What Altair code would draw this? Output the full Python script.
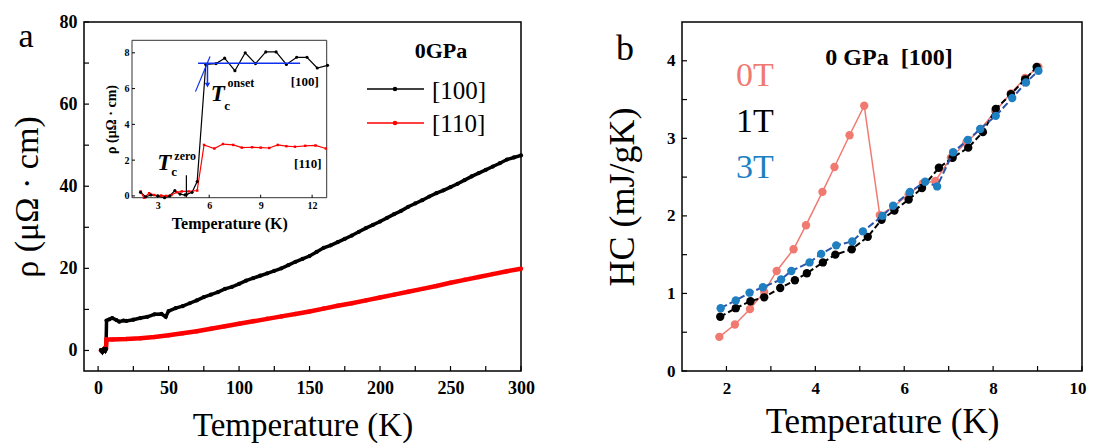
import altair as alt
import pandas as pd

FONT = "Liberation Serif"

# ---------------- panel a : main curves ----------------
t100 = [2, 3, 4, 5, 5.6, 6, 8, 10, 13, 15, 18, 20, 25, 30, 35, 40, 45, 48, 50,
        55, 60, 65, 70, 75, 80, 85, 90, 95, 100, 105, 110, 115, 120, 125, 130,
        135, 140, 145, 150, 155, 160, 165, 170, 175, 180, 185, 190, 195, 200,
        205, 210, 215, 220, 225, 230, 235, 240, 245, 250, 255, 260, 265, 270,
        275, 280, 285, 290, 295, 300]
r100 = [0.1, -0.4, 0.3, -0.1, 0.4, 7.3, 7.6, 7.9, 7.4, 7.0, 7.3, 7.2, 7.5, 7.9, 8.2, 8.8, 8.9, 8.2, 9.6,
        10.3, 10.8, 11.5, 12.2, 13.0, 13.6, 14.2, 15.0, 15.5, 16.2, 17.0, 17.6, 18.2, 18.8, 19.4, 20.0,
        20.8, 21.6, 22.3, 23.0, 24.0, 25.0, 25.6, 26.4, 27.2, 28.0, 28.9, 29.8, 30.6, 31.4,
        32.3, 33.2, 34.0, 35.0, 35.8, 36.6, 37.5, 38.3, 39.0, 39.8, 40.6, 41.5, 42.4, 43.2,
        44.0, 44.8, 45.6, 46.5, 47.0, 47.5]

t110 = [2, 3, 4, 5, 5.6, 6, 10, 20, 30, 40, 50, 60, 70, 80, 90, 100, 110, 120, 130,
        140, 150, 160, 170, 180, 190, 200, 210, 220, 230, 240, 250, 260, 270, 280, 290, 300]
r110 = [0.0, 0.1, 0.2, 0.2, 0.4, 2.7, 2.7, 2.8, 3.0, 3.3, 3.7, 4.2, 4.7, 5.3, 5.9, 6.5, 7.1, 7.7, 8.3,
        8.9, 9.5, 10.2, 10.9, 11.5, 12.2, 12.9, 13.6, 14.3, 15.0, 15.7, 16.5, 17.2, 17.9, 18.6, 19.3, 19.9]

# ---------------- panel a : inset ----------------
it100 = [2.0, 2.3, 2.6, 3.0, 3.4, 3.7, 4.0, 4.3, 4.6, 5.0, 5.3, 5.8, 6.4, 6.9, 7.5, 8.1,
         8.7, 9.3, 9.9, 10.5, 11.1, 11.7, 12.3, 12.9]
ir100 = [0.2, -0.05, 0.05, 0.0, -0.1, 0.0, 0.3, 0.1, 0.05, 0.2, 0.8, 7.35, 7.4, 7.7, 7.0, 8.0,
         7.4, 8.05, 8.05, 7.35, 7.75, 7.75, 7.15, 7.3]
it110 = [2.0, 2.2, 2.5, 2.8, 3.2, 3.5, 3.8, 4.1, 4.4, 4.8, 5.3, 5.7, 6.3, 6.8, 7.4, 7.9,
         8.5, 9.0, 9.5, 10.0, 10.5, 11.0, 11.6, 12.2, 12.8]
ir110 = [0.25, -0.1, 0.15, 0.05, 0.02, 0.0, 0.05, 0.2, 0.25, 0.25, 0.3, 2.85, 2.65, 2.9, 2.85, 2.7,
         2.72, 2.7, 2.68, 2.85, 2.78, 2.75, 2.8, 2.82, 2.65]

# ---------------- panel b : heat capacity ----------------
t0 = [1.84, 2.19, 2.53, 2.85, 3.13, 3.51, 3.79, 4.16, 4.43, 4.77, 5.10, 5.45, 5.76, 6.10,
      6.42, 6.70, 7.05, 7.40, 7.72, 8.05, 8.40, 8.72, 9.02]
hc0 = [0.44, 0.60, 0.80, 1.02, 1.29, 1.57, 1.88, 2.31, 2.63, 3.04, 3.42, 2.01, 2.12, 2.28,
       2.42, 2.45, 2.75, 2.95, 3.12, 3.35, 3.58, 3.78, 3.92]
t1 = [1.86, 2.21, 2.54, 2.85, 3.21, 3.54, 3.81, 4.17, 4.45, 4.82, 5.18, 5.49, 5.78, 6.10,
      6.40, 6.78, 7.09, 7.44, 7.77, 8.06, 8.40, 8.72, 8.98]
hc1 = [0.70, 0.81, 0.90, 0.95, 1.07, 1.17, 1.26, 1.40, 1.50, 1.57, 1.73, 1.95, 2.07, 2.21,
       2.36, 2.62, 2.75, 2.88, 3.08, 3.38, 3.57, 3.76, 3.92]
t3 = [1.87, 2.21, 2.52, 2.82, 3.23, 3.46, 3.87, 4.13, 4.47, 4.83, 5.07, 5.51, 5.75, 6.13,
      6.47, 6.74, 7.10, 7.43, 7.71, 8.06, 8.43, 8.74, 9.02]
hc3 = [0.81, 0.91, 1.01, 1.08, 1.18, 1.29, 1.40, 1.51, 1.62, 1.67, 1.80, 2.00, 2.13, 2.31,
       2.44, 2.38, 2.82, 2.98, 3.12, 3.29, 3.52, 3.72, 3.87]

# tick positions
a_xticks = [0, 25, 50, 75, 100, 125, 150, 175, 200, 225, 250, 275, 300]
a_yticks = [0, 10, 20, 30, 40, 50, 60, 70, 80]
i_xticks = [3, 6, 9, 12]
i_yticks = [0, 2, 4, 6, 8]
b_xticks = [2, 3, 4, 5, 6, 7, 8, 9, 10]
b_yticks = [0, 0.5, 1, 1.5, 2, 2.5, 3, 3.5, 4]

C0, C1, C3, C3L = "#F07A70", "#000000", "#1E7FC1", "#2A55AA"


def label_axis(title, values, orient, lexpr, lsize, tsize, lpad, tpad, tweight="normal",
               offset=0, flush=False, flush_off=0):
    kw = dict(title=title, values=values, orient=orient, ticks=False, domain=False, grid=False,
              labelFontSize=lsize, labelFontWeight="bold", titleFontSize=tsize,
              titleFontWeight=tweight, labelPadding=lpad, titlePadding=tpad, labelFlush=flush,
              offset=offset)
    if flush:
        kw["labelFlushOffset"] = flush_off
    if lexpr:
        kw["labelExpr"] = lexpr
    return alt.Axis(**kw)


def inward_ticks(xvals, yvals, xscale, yscale, x0, y0, size, width=1.2):
    """Tick marks drawn from the axis line into the plot (x0 = left edge px, y0 = bottom edge px)."""
    bx = alt.Chart(pd.DataFrame({"v": xvals})).mark_rule(color="black", strokeWidth=width).encode(
        x=alt.X("v:Q", scale=xscale, axis=None), y=alt.value(y0), y2=alt.value(y0 - size))
    ly = alt.Chart(pd.DataFrame({"v": yvals})).mark_rule(color="black", strokeWidth=width).encode(
        y=alt.Y("v:Q", scale=yscale, axis=None), x=alt.value(x0), x2=alt.value(x0 + size))
    return [bx, ly]


# ================= LEFT PANEL =================
W1, H1 = 437, 349
MX = alt.Scale(domain=[-10, 300], nice=False)
MY = alt.Scale(domain=[-5, 80], nice=False)

d100 = pd.DataFrame({"t": t100, "r": r100})
d110 = pd.DataFrame({"t": t110, "r": r110})

xax = label_axis("Temperature (K)", a_xticks, "bottom", "datum.value % 50 == 0 ? datum.label : ''",
                 18, 33, 8, 12)
yax = label_axis("ρ (μΩ · cm)", a_yticks, "left", "datum.value % 20 == 0 ? datum.label : ''",
                 18, 34, 7, 15)

line100 = alt.Chart(d100).mark_line(color="black", strokeWidth=3.5).encode(
    x=alt.X("t:Q", scale=MX, axis=xax), y=alt.Y("r:Q", scale=MY, axis=yax))
pts100 = alt.Chart(d100).mark_circle(color="black", size=18, opacity=1).encode(
    x=alt.X("t:Q", scale=MX, axis=None), y=alt.Y("r:Q", scale=MY, axis=None))
line110 = alt.Chart(d110).mark_line(color="#FF0000", strokeWidth=4.5).encode(
    x=alt.X("t:Q", scale=MX, axis=None), y=alt.Y("r:Q", scale=MY, axis=None))
pts110 = alt.Chart(d110).mark_circle(color="#FF0000", size=20, opacity=1).encode(
    x=alt.X("t:Q", scale=MX, axis=None), y=alt.Y("r:Q", scale=MY, axis=None))

dummy = pd.DataFrame({"k": [0]})


def txt(text, x, y, size, color="black", weight="normal", style="normal", align="center", angle=0):
    return alt.Chart(dummy).mark_text(text=text, font=FONT, fontSize=size, color=color,
                                      fontWeight=weight, fontStyle=style, align=align,
                                      baseline="middle", angle=angle).encode(
        x=alt.value(x), y=alt.value(y))


leg = [
    txt("0GPa", 357, 29, 22, weight="bold"),
    alt.Chart(dummy).mark_rule(color="black", strokeWidth=1.5).encode(
        x=alt.value(283), x2=alt.value(340), y=alt.value(67)),
    alt.Chart(dummy).mark_circle(color="black", size=20, opacity=1).encode(
        x=alt.value(311), y=alt.value(67)),
    txt("[100]", 348, 69, 25, align="left"),
    alt.Chart(dummy).mark_rule(color="#FF0000", strokeWidth=1.5).encode(
        x=alt.value(283), x2=alt.value(340), y=alt.value(101)),
    alt.Chart(dummy).mark_circle(color="#FF0000", size=20, opacity=1).encode(
        x=alt.value(311), y=alt.value(101)),
    txt("[110]", 348, 102, 25, align="left"),
    txt("a", -58, 15, 34),
]

main_layer = alt.layer(line100, *inward_ticks(a_xticks, a_yticks, MX, MY, 0, H1, 5),
                       line110, pts110, pts100, *leg).resolve_axis(
    x="independent", y="independent")

# ---- inset ----
IX0, IX1, IY0, IY1 = 48, 242.7, 175.7, 18.3
IX = alt.Scale(domain=[1.5, 12.85], range=[IX0, IX1], nice=False, zero=False)
IY = alt.Scale(domain=[-0.1, 8.7], range=[IY0, IY1], nice=False, zero=False)


def ix(field, axis=None):
    return alt.X(field, scale=IX, axis=axis)


def iy(field, axis=None):
    return alt.Y(field, scale=IY, axis=axis)


frame = alt.Chart(pd.DataFrame({"x": [1.5], "x2": [12.85], "y": [-0.1], "y2": [8.7]})).mark_rect(
    fill="white", stroke="#333333", strokeWidth=1).encode(
    x=ix("x:Q"), x2="x2:Q", y=iy("y:Q"), y2="y2:Q")

ixax = label_axis("Temperature (K)", i_xticks, "bottom", None, 10, 16, 3, 5, "bold",
                  offset=IY0 - H1)
iyax = label_axis("ρ (μΩ · cm)", i_yticks, "left", None, 10, 14, 3, 6, "bold",
                  offset=-IX0)

di100 = pd.DataFrame({"t": it100, "r": ir100})
di110 = pd.DataFrame({"t": it110, "r": ir110})
iline100 = alt.Chart(di100).mark_line(color="black", strokeWidth=1.2).encode(
    x=ix("t:Q", ixax), y=iy("r:Q", iyax))
ipts100 = alt.Chart(di100).mark_circle(color="black", size=10, opacity=1).encode(
    x=ix("t:Q"), y=iy("r:Q"))
iline110 = alt.Chart(di110).mark_line(color="#FF0000", strokeWidth=1.2).encode(
    x=ix("t:Q"), y=iy("r:Q"))
ipts110 = alt.Chart(di110).mark_square(color="#FF0000", size=6, opacity=1).encode(
    x=ix("t:Q"), y=iy("r:Q"))

blue_h = alt.Chart(pd.DataFrame({"t": [5.35, 11.3], "r": [7.42, 7.42]})).mark_line(
    color="#1030F0", strokeWidth=1.5).encode(x=ix("t:Q"), y=iy("r:Q"))
blue_t = alt.Chart(pd.DataFrame({"t": [5.2, 6.05], "r": [5.83, 7.8]})).mark_line(
    color="#1030F0", strokeWidth=1.2).encode(x=ix("t:Q"), y=iy("r:Q"))
blue_a = alt.Chart(pd.DataFrame({"t": [5.9], "r": [7.42], "r2": [6.3]})).mark_rule(
    color="#1030F0", strokeWidth=1.5).encode(x=ix("t:Q"), y=iy("r:Q"), y2="r2:Q")
blue_h2 = alt.Chart(pd.DataFrame({"t": [5.9], "r": [6.2]})).mark_point(
    shape="triangle-down", filled=True, color="#1030F0", size=30, opacity=1).encode(
    x=ix("t:Q"), y=iy("r:Q"))
blk_a = alt.Chart(pd.DataFrame({"t": [4.67], "r": [1.16], "r2": [0.1]})).mark_rule(
    color="black", strokeWidth=1.2).encode(x=ix("t:Q"), y=iy("r:Q"), y2="r2:Q")
blk_h = alt.Chart(pd.DataFrame({"t": [4.67], "r": [0.02]})).mark_point(
    shape="triangle-down", filled=True, color="black", size=22, opacity=1).encode(
    x=ix("t:Q"), y=iy("r:Q"))

ann_it = pd.DataFrame({"t": [6.5, 3.38], "r": [5.71, 1.85], "s": ["T", "T"]})
ann_up = pd.DataFrame({
    "t": [7.85, 7.05, 4.6, 3.95, 11.57, 11.75],
    "r": [6.3, 5.0, 2.25, 1.35, 6.35, 1.76],
    "s": ["onset", "c", "zero", "c", "[100]", "[110]"],
    "fs": [12, 13, 12, 13, 13, 13],
})
ann_it_txt = alt.Chart(ann_it).mark_text(font=FONT, fontWeight="bold", fontStyle="italic",
                                         fontSize=23, baseline="middle", align="center",
                                         color="black").encode(
    x=ix("t:Q"), y=iy("r:Q"), text="s:N")
ann_up_txt = alt.Chart(ann_up).mark_text(font=FONT, fontWeight="bold", baseline="middle",
                                         align="center", color="black").encode(
    x=ix("t:Q"), y=iy("r:Q"), text="s:N",
    size=alt.Size("fs:Q", scale=None, legend=None))

inset_layer = alt.layer(frame, iline100, *inward_ticks(i_xticks, i_yticks, IX, IY, IX0, IY0, 3, 1),
                        iline110, ipts110, ipts100,
                        blue_h, blue_t, blue_a, blue_h2, blk_a, blk_h,
                        ann_it_txt, ann_up_txt).resolve_axis(x="independent", y="independent")

left = alt.layer(main_layer, inset_layer).resolve_scale(
    x="independent", y="independent").resolve_axis(x="independent", y="independent").properties(
    width=W1, height=H1)

# ================= RIGHT PANEL =================
W2, H2 = 400, 349
RX = alt.Scale(domain=[1, 10], nice=False, zero=False)
RY = alt.Scale(domain=[0, 4.5], nice=False)

rxax = label_axis("Temperature (K)", b_xticks, "bottom", "datum.value % 2 == 0 ? datum.label : ''",
                  17, 35, 9, 8, flush=True, flush_off=4)
ryax = label_axis("HC (mJ/gK)", b_yticks, "left",
                  "datum.value % 1 == 0 ? format(datum.value, 'd') : ''",
                  17, 36, 7, 25)

d0 = pd.DataFrame({"t": t0, "c": hc0})
d1 = pd.DataFrame({"t": t1, "c": hc1})
d3 = pd.DataFrame({"t": t3, "c": hc3})

b0 = alt.Chart(d0).encode(x=alt.X("t:Q", scale=RX, axis=rxax), y=alt.Y("c:Q", scale=RY, axis=ryax))
b0n = alt.Chart(d0).encode(x=alt.X("t:Q", scale=RX, axis=None), y=alt.Y("c:Q", scale=RY, axis=None))
b1 = alt.Chart(d1).encode(x=alt.X("t:Q", scale=RX, axis=None), y=alt.Y("c:Q", scale=RY, axis=None))
b3 = alt.Chart(d3).encode(x=alt.X("t:Q", scale=RX, axis=None), y=alt.Y("c:Q", scale=RY, axis=None))

right = alt.layer(
    b0.mark_line(color=C0, strokeWidth=1.5),
    *inward_ticks(b_xticks, b_yticks, RX, RY, 0, H2, 5),
    b0n.mark_circle(color=C0, size=70, opacity=1),
    b1.mark_line(color=C1, strokeWidth=2, strokeDash=[6, 3]),
    b1.mark_circle(color=C1, size=70, opacity=1),
    b3.mark_line(color=C3L, strokeWidth=2, strokeDash=[7, 3]),
    b3.mark_circle(color=C3, size=70, opacity=1),
    txt("b", -57, 27, 36),
    txt("0 GPa\u00a0\u00a0[100]", 207, 36, 24, weight="bold"),
    txt("0T", 73, 54, 34, color=C0),
    txt("1T", 73, 100, 34, color=C1),
    txt("3T", 73, 146, 34, color=C3),
).resolve_axis(x="independent", y="independent").properties(width=W2, height=H2)

chart = alt.hconcat(left, right, spacing=161, bounds="flush").properties(
    padding={"left": 1, "top": 4, "right": 0, "bottom": 2}
).configure(font=FONT).configure_view(
    stroke="black", strokeWidth=1.5).configure_axis(
    labelFont=FONT, titleFont=FONT, labelColor="black", titleColor="black",
    tickColor="black", tickWidth=1.2)

chart.save("out.html", embed_options={"renderer": "svg", "actions": False})
